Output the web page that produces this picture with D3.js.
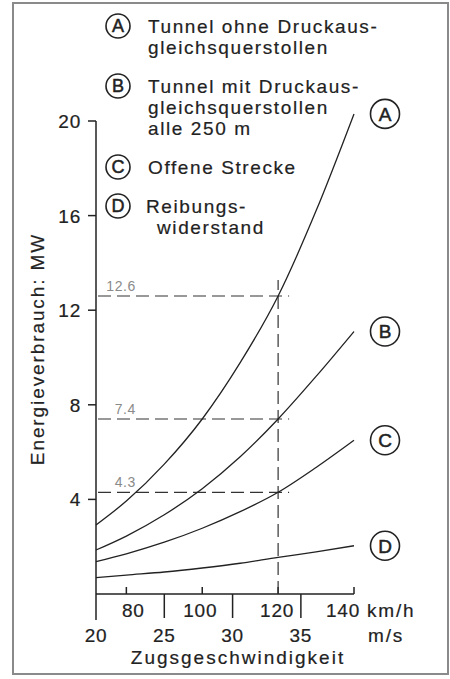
<!DOCTYPE html>
<html>
<head>
<meta charset="utf-8">
<script src="https://cdn.jsdelivr.net/npm/d3@7"></script>
<style>
  body { margin: 0; background: #fff; }
  text { font-family: "Liberation Sans", Arial, sans-serif; fill: #222; stroke: #222; stroke-width: 0.2px; }
</style>
</head>
<body>
<svg id="chart" width="450" height="679"></svg>
<script>
// speeds (km/h) and energy use in MW per curve
var speedKmh = [72, 80, 90, 100, 110, 120, 130, 140];
var seriesA = [2.92, 3.93, 5.49, 7.4, 9.78, 12.6, 16.2, 20.3];
var seriesB = [1.86, 2.45, 3.35, 4.45, 5.8, 7.4, 9.2, 11.1];
var seriesC = [1.37, 1.7, 2.19, 2.78, 3.48, 4.3, 5.35, 6.5];
var seriesD = [0.69, 0.8, 0.93, 1.1, 1.3, 1.55, 1.78, 2.04];
var curveNames = ["A", "B", "C", "D"];

var legendLines = [
  ["Tunnel ohne Druckaus-", "gleichsquerstollen"],
  ["Tunnel mit Druckaus-", "gleichsquerstollen", "alle 250 m"],
  ["Offene Strecke"],
  ["Reibungs-", "widerstand"]
];

var yTicks = [4, 8, 12, 16, 20];
var kmhTicks = [80, 100, 120, 140];
var msTicks = [20, 25, 30, 35];

// the dashed reading at 120 km/h
var markSpeed = 120;
var markValues = [12.6, 7.4, 4.3];
var markLabels = ["12.6", "7.4", "4.3"];

var svg = d3.select("#chart");

var x = d3.scaleLinear().domain([72, 140]).range([96, 354]);
var y = d3.scaleLinear().domain([0, 20]).range([594, 121]);

var ink = "#222";

// outer frame
svg.append("rect")
  .attr("x", 13).attr("y", 3)
  .attr("width", 435).attr("height", 671)
  .attr("fill", "none")
  .attr("stroke", "#8a8a8a")
  .attr("stroke-width", 2);

// y axis (ticks point left, line runs down to the m/s row)
var yAxis = svg.append("g");
yAxis.append("line")
  .attr("x1", x(72)).attr("x2", x(72))
  .attr("y1", y(20)).attr("y2", y(0) + 26)
  .attr("stroke", ink).attr("stroke-width", 1.5);

yAxis.selectAll(".ytick")
  .data(yTicks)
  .enter().append("line")
  .attr("x1", x(72) - 8).attr("x2", x(72))
  .attr("y1", function(d) { return y(d); })
  .attr("y2", function(d) { return y(d); })
  .attr("stroke", ink).attr("stroke-width", 1.5);

yAxis.selectAll(".ylab")
  .data(yTicks)
  .enter().append("text")
  .attr("x", x(72) - 15)
  .attr("y", function(d) { return y(d) + 7; })
  .attr("text-anchor", "end")
  .attr("font-size", 19)
  .attr("letter-spacing", 0.8)
  .text(function(d) { return d; });

svg.append("text")
  .attr("transform", "translate(44," + 349 + ") rotate(-90)")
  .attr("text-anchor", "middle")
  .attr("font-size", 19)
  .attr("letter-spacing", 1.9)
  .text("Energieverbrauch: MW");

// x axis: km/h ticks up, m/s ticks down
var xAxis = svg.append("g");
xAxis.append("line")
  .attr("x1", x(72)).attr("x2", x(140))
  .attr("y1", y(0)).attr("y2", y(0))
  .attr("stroke", ink).attr("stroke-width", 1.5);

xAxis.selectAll(".kmh")
  .data(kmhTicks)
  .enter().append("line")
  .attr("x1", function(d) { return x(d); })
  .attr("x2", function(d) { return x(d); })
  .attr("y1", y(0) - 7).attr("y2", y(0))
  .attr("stroke", ink).attr("stroke-width", 1.5);

xAxis.selectAll(".ms")
  .data(msTicks.slice(1))
  .enter().append("line")
  .attr("x1", function(d) { return x(d * 3.6); })
  .attr("x2", function(d) { return x(d * 3.6); })
  .attr("y1", y(0)).attr("y2", y(0) + 24)
  .attr("stroke", ink).attr("stroke-width", 1.5);

// km/h labels sit between the long m/s ticks
var kmhShift = [7, -2, -1, -11];
xAxis.selectAll(".kmhlab")
  .data(kmhTicks)
  .enter().append("text")
  .attr("x", function(d, i) { return x(d) + kmhShift[i]; })
  .attr("y", y(0) + 23)
  .attr("text-anchor", "middle")
  .attr("font-size", 19)
  .attr("letter-spacing", 0.8)
  .text(function(d) { return d; });

xAxis.selectAll(".mslab")
  .data(msTicks)
  .enter().append("text")
  .attr("x", function(d) { return x(d * 3.6); })
  .attr("y", y(0) + 48)
  .attr("text-anchor", "middle")
  .attr("font-size", 19)
  .attr("letter-spacing", 0.8)
  .text(function(d) { return d; });

xAxis.append("text")
  .attr("x", x(140) + 13).attr("y", y(0) + 23)
  .attr("font-size", 19).attr("letter-spacing", 1.8)
  .text("km/h");
xAxis.append("text")
  .attr("x", x(140) + 14).attr("y", y(0) + 48)
  .attr("font-size", 19).attr("letter-spacing", 1.8)
  .text("m/s");

xAxis.append("text")
  .attr("x", 238).attr("y", y(0) + 70)
  .attr("text-anchor", "middle")
  .attr("font-size", 19)
  .attr("letter-spacing", 2)
  .text("Zugsgeschwindigkeit");

// dashed guide lines
var guides = svg.append("g")
  .attr("stroke", "#333")
  .attr("stroke-width", 1.2)
  .attr("stroke-dasharray", "13,6");

guides.append("line")
  .attr("x1", x(markSpeed)).attr("x2", x(markSpeed))
  .attr("y1", y(0)).attr("y2", y(markValues[0]) - 16);

guides.selectAll(".h")
  .data(markValues)
  .enter().append("line")
  .attr("x1", x(72) + 2).attr("x2", x(markSpeed) + 11)
  .attr("y1", function(d) { return y(d); })
  .attr("y2", function(d) { return y(d); });

svg.selectAll(".marklab")
  .data(markValues)
  .enter().append("text")
  .attr("x", 136)
  .attr("y", function(d) { return y(d) - 5; })
  .attr("text-anchor", "end")
  .attr("font-size", 14)
  .attr("letter-spacing", 0.6)
  .style("fill", "#8a8a8a")
  .style("stroke", "none")
  .text(function(d, i) { return markLabels[i]; });

// curves
var allSeries = [seriesA, seriesB, seriesC, seriesD];
var line = d3.line()
  .x(function(d, i) { return x(speedKmh[i]); })
  .y(function(d) { return y(d); })
  .curve(d3.curveMonotoneX);

svg.selectAll(".curve")
  .data(allSeries)
  .enter().append("path")
  .attr("d", line)
  .attr("fill", "none")
  .attr("stroke", ink)
  .attr("stroke-width", 1.3);

// circled letters
function circled(g, cx, cy, r, letter, size) {
  g.append("circle")
    .attr("cx", cx).attr("cy", cy).attr("r", r)
    .attr("fill", "#fff")
    .attr("stroke", ink).attr("stroke-width", 1.6);
  g.append("text")
    .attr("x", cx).attr("y", cy + size * 0.36)
    .attr("text-anchor", "middle")
    .attr("font-size", size)
    .style("stroke-width", "0.5px")
    .text(letter);
}

var ends = svg.append("g");
allSeries.forEach(function(s, i) {
  circled(ends, x(140) + 31, y(s[s.length - 1]), 14.5, curveNames[i], 19);
});

// legend at the top
var legend = svg.append("g");
var ly = 26;
legendLines.forEach(function(lines, i) {
  circled(legend, 118, ly, 12, curveNames[i], 18);
  lines.forEach(function(t, j) {
    var indent = (i == 3) ? (j == 0 ? -2 : 9) : 0;
    legend.append("text")
      .attr("x", 148 + indent)
      .attr("y", ly + j * 21 + 7)
      .attr("font-size", 19)
      .attr("letter-spacing", 1.6)
      .text(t);
  });
  ly += lines.length * 21 + 18;
});
</script>
</body>
</html>
